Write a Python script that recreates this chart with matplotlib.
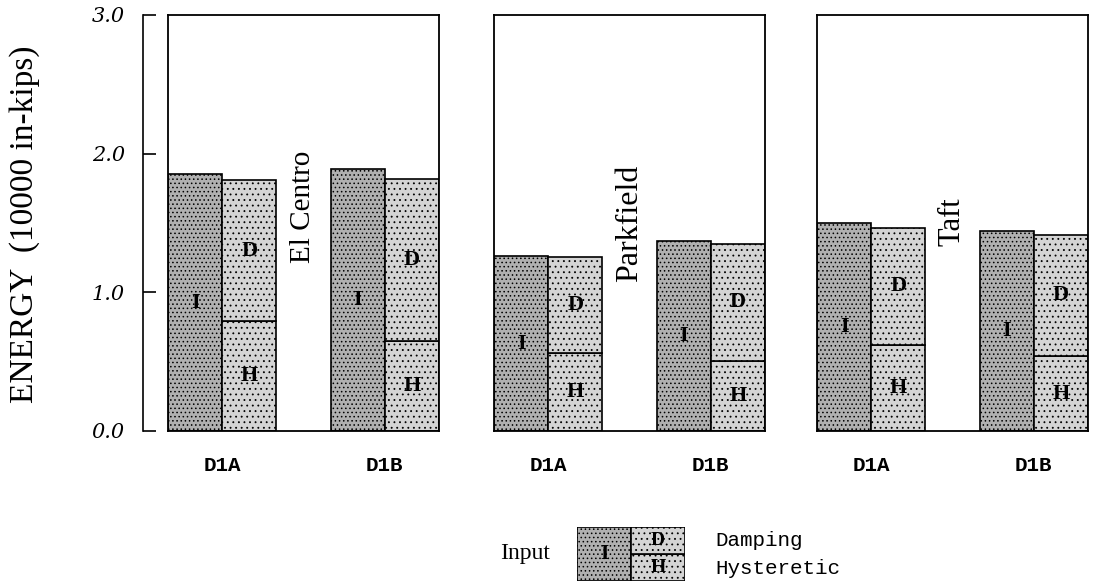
import matplotlib
matplotlib.use('Agg')
import matplotlib.pyplot as plt

# Energy values (10000 in-kips)
events = ['El Centro', 'Parkfield', 'Taft']
models = ['D1A', 'D1B']
input_energy = [[1.85, 1.89], [1.26, 1.37], [1.50, 1.44]]
total_dissipated = [[1.81, 1.82], [1.255, 1.35], [1.465, 1.415]]
hysteretic = [[0.79, 0.65], [0.56, 0.505], [0.62, 0.54]]
event_label_y = [1.62, 1.50, 1.51]
event_font = [21, 23, 22]
yticks = [0.0, 1.0, 2.0, 3.0]

W, H = 1107, 586
plt.rcParams['hatch.linewidth'] = 0.6
fig = plt.figure(figsize=(W / 100, H / 100), dpi=100)

def fx(px):
    return px / W

def fy(py):
    return (H - py) / H

serif = 'Liberation Serif'
mono = 'Liberation Mono'
c_input = '#b0b0b0'
c_diss = '#d4d4d4'

bottom, top = 431, 15
panel_left = [168, 494, 817]
panel_w = 271

for k, ev in enumerate(events):
    ax = fig.add_axes([fx(panel_left[k]), fy(bottom), panel_w / W, (bottom - top) / H])
    ax.set_xlim(0, 5)
    ax.set_ylim(0, 3)
    for j, m in enumerate(models):
        x0 = 3 * j
        ie = input_energy[k][j]
        td = total_dissipated[k][j]
        hy = hysteretic[k][j]
        ax.bar(x0 + 0.5, ie, width=1, color=c_input, edgecolor='black',
               hatch='....', linewidth=1.2)
        ax.bar(x0 + 1.5, hy, width=1, color=c_diss, edgecolor='black',
               hatch='...', linewidth=1.2)
        ax.bar(x0 + 1.5, td - hy, bottom=hy, width=1, color=c_diss,
               edgecolor='black', hatch='...', linewidth=1.2)
        ax.text(x0 + 0.5, ie / 2, 'I', ha='center', va='center',
                family=serif, fontsize=16, fontweight='bold')
        ax.text(x0 + 1.5, (td + hy) / 2, 'D', ha='center', va='center',
                family=serif, fontsize=16, fontweight='bold')
        ax.text(x0 + 1.5, hy / 2, 'H', ha='center', va='center',
                family=serif, fontsize=16, fontweight='bold')
    ax.text(2.5, event_label_y[k], ev, rotation=90, ha='center', va='center',
            family=serif, fontsize=event_font[k])
    ax.set_xticks([1, 4])
    ax.set_xticklabels(models, family=mono, fontsize=15, fontweight='bold')
    ax.tick_params(axis='x', length=0, pad=18)
    ax.set_yticks([])
    for s in ax.spines.values():
        s.set_linewidth(1.3)

# separate value axis on the left
ay = fig.add_axes([fx(143), fy(bottom), 0.001, (bottom - top) / H])
ay.set_ylim(0, 3)
ay.set_xticks([])
ay.set_yticks(yticks)
ay.set_yticklabels(['%.1f' % v for v in yticks], family='DejaVu Serif',
                   style='italic', fontsize=15)
ay.tick_params(axis='y', direction='in', length=9, width=1.2, pad=13)
for s in ['top', 'right', 'bottom']:
    ay.spines[s].set_visible(False)
ay.spines['left'].set_linewidth(1.2)
ay.patch.set_visible(False)
fig.text(fx(25), fy(224), 'ENERGY  (10000 in-kips)', rotation=90,
         ha='center', va='center', family=serif, fontsize=24)

# legend block
al = fig.add_axes([fx(577), fy(581), 108 / W, 54 / H])
al.set_xlim(0, 2)
al.set_ylim(0, 2)
al.bar(0.5, 2, width=1, color=c_input, edgecolor='black', hatch='....', linewidth=1.2)
al.bar(1.5, 1, width=1, color=c_diss, edgecolor='black', hatch='...', linewidth=1.2)
al.bar(1.5, 1, bottom=1, width=1, color=c_diss, edgecolor='black', hatch='...', linewidth=1.2)
al.text(0.5, 1, 'I', ha='center', va='center', family=serif, fontsize=15, fontweight='bold')
al.text(1.5, 1.5, 'D', ha='center', va='center', family=serif, fontsize=14, fontweight='bold')
al.text(1.5, 0.5, 'H', ha='center', va='center', family=serif, fontsize=14, fontweight='bold')
al.axis('off')
fig.text(fx(500), fy(553), 'Input', ha='left', va='center', family=serif, fontsize=17)
fig.text(fx(715), fy(540), 'Damping', ha='left', va='center', family=mono, fontsize=15)
fig.text(fx(715), fy(568), 'Hysteretic', ha='left', va='center', family=mono, fontsize=15)

fig.savefig('out.png', dpi=100)
